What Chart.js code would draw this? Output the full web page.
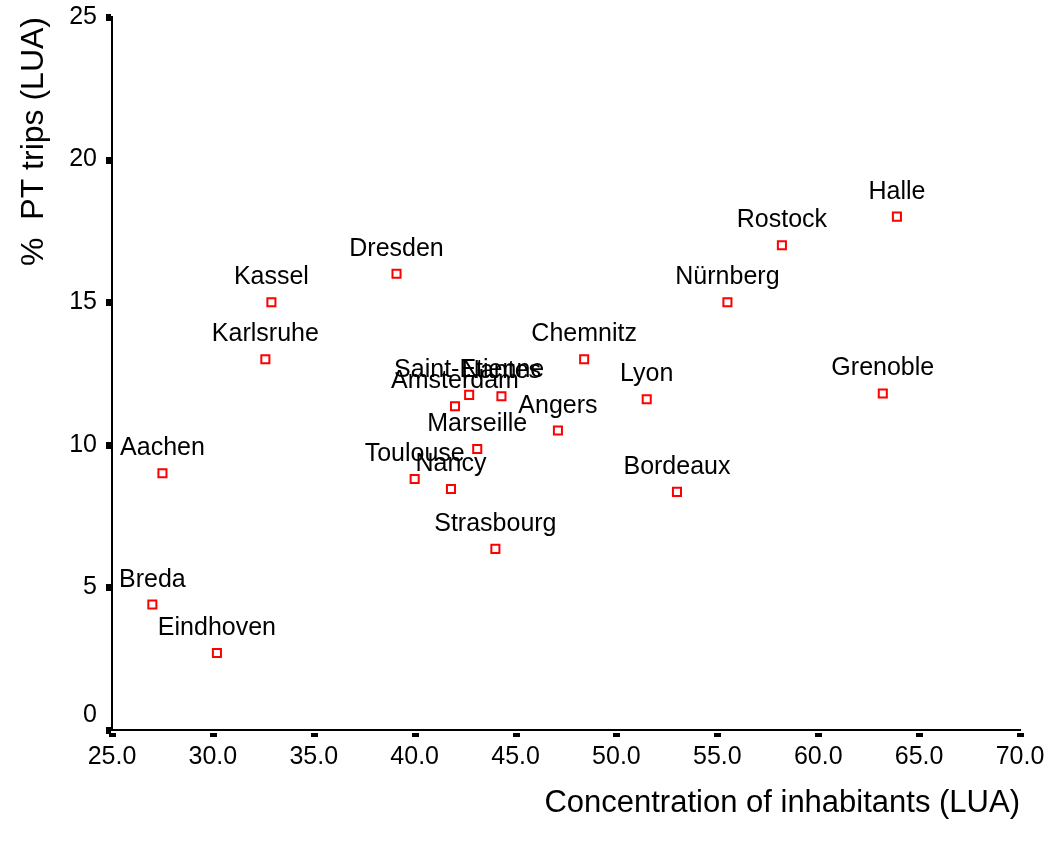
<!DOCTYPE html>
<html>
<head>
<meta charset="utf-8">
<script src="https://cdn.jsdelivr.net/npm/chart.js@4/dist/chart.umd.min.js"></script>
<style>
html,body{margin:0;padding:0;background:#fff;}
#wrap{width:1059px;height:854px;position:relative;}
</style>
</head>
<body>
<div id="wrap"><canvas id="c" width="1059" height="854"></canvas></div>
<script>
const cities = ["Halle","Rostock","Nürnberg","Grenoble","Chemnitz","Lyon","Bordeaux","Dresden","Kassel","Karlsruhe","Aachen","Breda","Eindhoven","Saint-Etienne","Nantes","Amsterdam","Angers","Marseille","Toulouse","Nancy","Strasbourg"];
const concentration = [63.9,58.2,55.5,63.2,48.4,51.5,53.0,39.1,32.9,32.6,27.5,27.0,30.2,42.7,44.3,42.0,47.1,43.1,40.0,41.8,44.0];
const ptTrips = [18.0,17.0,15.0,11.8,13.0,11.6,8.35,16.0,15.0,13.0,9.0,4.4,2.7,11.75,11.7,11.35,10.5,9.85,8.8,8.45,6.35];
const xTicks = [25,30,35,40,45,50,55,60,65,70];
const yTicks = [0,5,10,15,20,25];
const xTitle = "Concentration of inhabitants (LUA)";
const yTitle = "%  PT trips (LUA)";

const FONT = "'Liberation Sans', Arial, Helvetica, sans-serif";

const labelPlugin = {
  id: 'extras',
  afterDraw(chart) {
    const ctx = chart.ctx;
    const xs = chart.scales.x, ys = chart.scales.y;
    const area = chart.chartArea;
    ctx.save();
    // tick marks
    ctx.fillStyle = '#000';
    xTicks.forEach(v => {
      const px = xs.getPixelForValue(v);
      ctx.fillRect(Math.round(px) - 3, area.bottom + 3, 7, 4);
    });
    yTicks.forEach(v => {
      const py = ys.getPixelForValue(v);
      ctx.fillRect(area.left - 6, Math.round(py) - 3, 5, 7);
    });
    // point labels
    ctx.font = "25px " + FONT;
    ctx.textAlign = 'center';
    ctx.textBaseline = 'alphabetic';
    const meta = chart.getDatasetMeta(0);
    meta.data.forEach((pt, i) => {
      ctx.fillText(cities[i], pt.x, pt.y - 18);
    });
    // axis titles
    ctx.font = "31px " + FONT;
    ctx.textAlign = 'right';
    ctx.fillText(xTitle, area.right, 812);
    ctx.font = "32px " + FONT;
    ctx.translate(43, 17);
    ctx.rotate(-Math.PI / 2);
    ctx.textAlign = 'right';
    ctx.fillText(yTitle, 0, 0);
    ctx.restore();
  }
};

new Chart(document.getElementById('c'), {
  type: 'scatter',
  data: {
    datasets: [{
      data: concentration.map((x, i) => ({x: x, y: ptTrips[i]})),
      pointStyle: 'rect',
      pointRadius: 5.7,
      pointHoverRadius: 5.7,
      pointBorderWidth: 2,
      pointBorderColor: '#ff0000',
      pointBackgroundColor: '#ffffff'
    }]
  },
  options: {
    responsive: false,
    animation: false,
    events: [],
    layout: { padding: { top: 17, right: 39, left: 0, bottom: 0 } },
    plugins: { legend: { display: false }, tooltip: { enabled: false } },
    scales: {
      x: {
        type: 'linear',
        min: 25, max: 70,
        afterBuildTicks(s) { s.ticks = xTicks.map(v => ({value: v})); },
        afterFit(s) { s.height = 854 - 730; s.paddingLeft = 0; s.paddingRight = 0; },
        grid: { display: false, drawTicks: false },
        border: { display: true, color: '#000', width: 2 },
        ticks: {
          color: '#000',
          font: { family: FONT, size: 25 },
          padding: 12,
          maxRotation: 0,
          autoSkip: false,
          callback: v => Number(v).toFixed(1)
        }
      },
      y: {
        type: 'linear',
        min: 0, max: 25,
        afterBuildTicks(s) { s.ticks = yTicks.map(v => ({value: v})); },
        afterFit(s) { s.width = 112; s.paddingTop = 0; s.paddingBottom = 0; },
        grid: { display: false, drawTicks: false },
        border: { display: true, color: '#000', width: 2 },
        ticks: {
          color: '#000',
          font: { family: FONT, size: 25 },
          padding: 15,
          autoSkip: false,
          callback: v => (v === 0 ? ['0', ''] : String(v))
        }
      }
    }
  },
  plugins: [labelPlugin]
});
</script>
</body>
</html>
